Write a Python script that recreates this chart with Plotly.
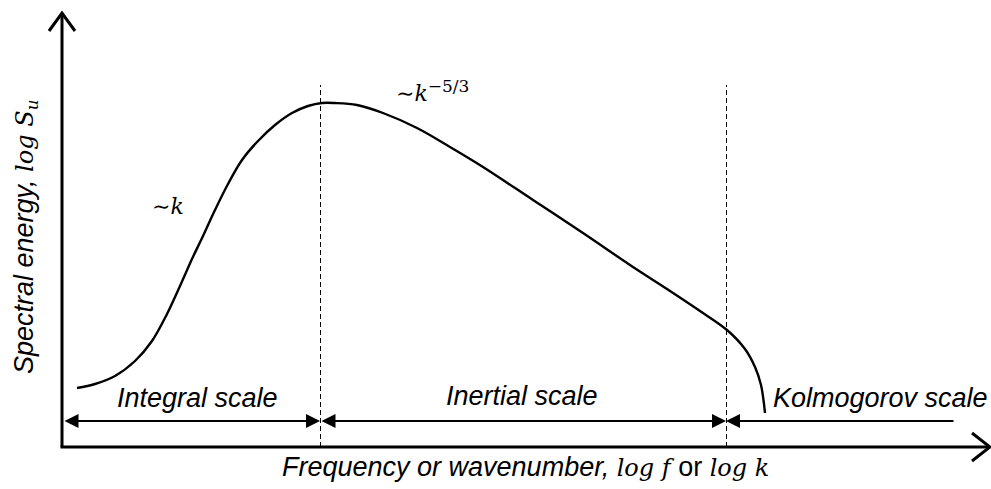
import plotly.graph_objects as go

# Schematic spectrum (arbitrary log units; frame spans 0..991 x 0..489)
log_k = [77, 95, 115, 135, 152, 167, 180, 192, 203, 215, 228, 242, 258, 275, 292, 308, 322, 335,
         357, 383, 417, 450, 483, 533, 583, 633, 667, 700, 727, 745, 755, 761, 765]
log_S = [101, 105, 113, 128, 148, 175, 203, 230, 253, 279, 305, 329, 348, 364, 376, 383, 386, 386,
         384, 376, 361, 342, 322, 289, 256, 222, 200, 178, 159, 140, 122, 104, 76]

# Scale boundaries (log k)
k_origin = 62
k_integral_end = 320
k_inertial_end = 726
k_kolmogorov_end = 955
arrow_level = 68

scale_names = ["Integral scale", "Inertial scale", "Kolmogorov scale"]
scale_label_x = [197, 522, 880]
scale_label_y = [91, 93, 91]

x_title = "Frequency or wavenumber, "
y_title = "Spectral energy, "

SANS = "Liberation Sans"
SERIF = "DejaVu Serif"

fig = go.Figure()
fig.add_trace(go.Scatter(x=log_k, y=log_S, mode="lines",
                         line=dict(color="black", width=2.4, shape="spline", smoothing=1.0),
                         hoverinfo="skip", showlegend=False))

shapes = []
# axes
shapes.append(dict(type="line", xref="x", yref="y", x0=k_origin, y0=42, x1=k_origin, y1=475,
                   line=dict(color="black", width=3)))
shapes.append(dict(type="line", xref="x", yref="y", x0=k_origin - 1.5, y0=42, x1=989, y1=42,
                   line=dict(color="black", width=3)))
# chevron arrow tips
shapes.append(dict(type="path", xref="x", yref="y",
                   path=f"M {k_origin-13},458 L {k_origin},476 L {k_origin+13},458",
                   line=dict(color="black", width=3)))
shapes.append(dict(type="path", xref="x", yref="y",
                   path="M 972,56 L 990,42 L 972,28",
                   line=dict(color="black", width=3)))
# dashed boundaries
for xb in [k_integral_end, k_inertial_end]:
    shapes.append(dict(type="line", xref="x", yref="y", x0=xb + 0.5, y0=42, x1=xb + 0.5, y1=404,
                       line=dict(color="black", width=1, dash="5px,3px")))

annotations = []
# scale arrows
segs = [(k_origin + 1, k_integral_end), (k_integral_end, k_inertial_end)]
for a, b in segs:
    annotations.append(dict(x=b, y=arrow_level, ax=a, ay=arrow_level, xref="x", yref="y",
                            axref="x", ayref="y", text="", showarrow=True, arrowhead=2,
                            startarrowhead=2, arrowside="end+start", arrowwidth=2, arrowsize=1.4,
                            startarrowsize=1.4, arrowcolor="black", standoff=0, startstandoff=0))
annotations.append(dict(x=k_inertial_end, y=arrow_level, ax=k_kolmogorov_end, ay=arrow_level,
                        xref="x", yref="y", axref="x", ayref="y", text="", showarrow=True,
                        arrowhead=2, arrowside="end", arrowwidth=2, arrowsize=1.4,
                        arrowcolor="black", standoff=0))

for name, lx, ly in zip(scale_names, scale_label_x, scale_label_y):
    annotations.append(dict(x=lx, y=ly, xref="x", yref="y", text=f"<i>{name}</i>",
                            showarrow=False, font=dict(family=SANS, size=27, color="black"),
                            xanchor="center", yanchor="middle"))

# slope labels
annotations.append(dict(x=168, y=283, xref="x", yref="y",
                        text="∼<i>k</i>", showarrow=False,
                        font=dict(family=SERIF, size=22, color="black"),
                        xanchor="center", yanchor="middle"))
annotations.append(dict(x=432, y=398, xref="x", yref="y",
                        text="∼<i>k</i><sup><span style=\"font-size:17px\">−5/3</span></sup>",
                        showarrow=False,
                        font=dict(family=SERIF, size=22, color="black"),
                        xanchor="center", yanchor="middle"))

# axis titles
annotations.append(dict(x=525, y=22, xref="x", yref="y",
                        text=f"<i>{x_title}</i><span style=\"font-family:{SERIF};font-size:24px\"><i>log f</i></span>"
                             f" or <span style=\"font-family:{SERIF};font-size:24px\"><i>log k</i></span>",
                        showarrow=False, font=dict(family=SANS, size=27, color="black"),
                        xanchor="center", yanchor="middle"))
annotations.append(dict(x=25, y=252, xref="x", yref="y", textangle=-90,
                        text=f"<i>{y_title}</i><span style=\"font-family:{SERIF};font-size:24px\"><i>log S</i><sub><i>u</i></sub></span>",
                        showarrow=False, font=dict(family=SANS, size=27, color="black"),
                        xanchor="center", yanchor="middle"))

fig.update_layout(
    width=991, height=489,
    margin=dict(l=0, r=0, t=0, b=0),
    paper_bgcolor="white", plot_bgcolor="white",
    xaxis=dict(range=[0, 991], visible=False, fixedrange=True),
    yaxis=dict(range=[0, 489], visible=False, fixedrange=True),
    shapes=shapes, annotations=annotations,
    showlegend=False,
)

fig.write_html("out.html", config={"displayModeBar": False})
